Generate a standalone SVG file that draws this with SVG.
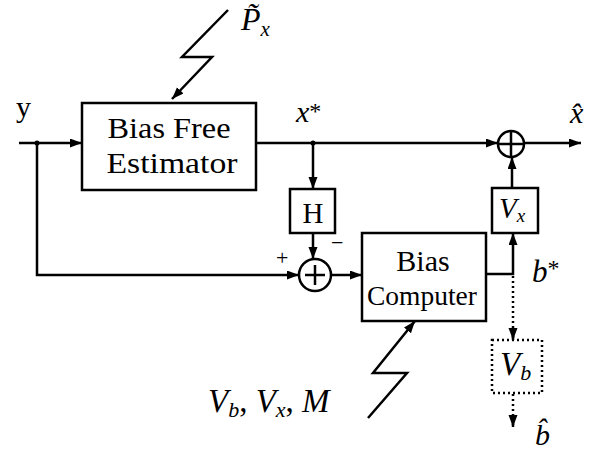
<svg xmlns="http://www.w3.org/2000/svg" width="602" height="452" viewBox="0 0 602 452">
<defs>
<marker id="ah" markerUnits="userSpaceOnUse" markerWidth="13" markerHeight="10" refX="12" refY="4.5" orient="auto">
<path d="M0,0 L12,4.5 L0,9 z" fill="#000"/>
</marker>
<style>
.ln{fill:none;stroke:#000;stroke-width:2.5}
.dot{fill:none;stroke:#000;stroke-width:2.5;stroke-dasharray:2 3}
.bx{fill:#fff;stroke:#000;stroke-width:2.5}
.i{font-style:italic}
</style>
</defs>
<rect width="602" height="452" fill="#fff"/>

<g id="connectors">
<path class="ln" d="M19,143 H82" marker-end="url(#ah)"/>
<path class="ln" d="M37,143 V275 H299" marker-end="url(#ah)"/>
<path class="ln" d="M256,143 H498" marker-end="url(#ah)"/>
<path class="ln" d="M313,143 V189" marker-end="url(#ah)"/>
<path class="ln" d="M313,233 V259" marker-end="url(#ah)"/>
<path class="ln" d="M331,275 H362" marker-end="url(#ah)"/>
<path class="ln" d="M486,274 H513 V233" marker-end="url(#ah)"/>
<path class="ln" d="M512,188 V157" marker-end="url(#ah)"/>
<path class="ln" d="M524,143 H581" marker-end="url(#ah)"/>
<path class="dot" d="M513,276 V338"/>
<path class="ln" d="M513,330 V340" marker-end="url(#ah)"/>
<path class="dot" d="M513,394 V425"/>
<path class="ln" d="M513,418 V427" marker-end="url(#ah)"/>
<path class="ln" d="M228,10 L182,57 H212 L172,99" marker-end="url(#ah)"/>
<path class="ln" d="M368,418 L407,373 H373 L415,321" marker-end="url(#ah)"/>
<circle cx="37" cy="143" r="2.5" fill="#000"/>
<circle cx="313" cy="143" r="2.5" fill="#000"/>
</g>

<g font-family="'Liberation Serif', 'DejaVu Serif', serif" fill="#000">
<g id="estimator">
<rect class="bx" x="82" y="103" width="174" height="87"/>
<text x="169" y="138" font-size="30" text-anchor="middle" textLength="123" lengthAdjust="spacingAndGlyphs">Bias Free</text>
<text x="172" y="173" font-size="30" text-anchor="middle" textLength="131" lengthAdjust="spacingAndGlyphs">Estimator</text>
</g>

<g id="H">
<rect class="bx" x="290" y="189" width="45" height="44"/>
<text x="313" y="223" font-size="29" text-anchor="middle">H</text>
</g>

<g id="sum1">
<circle class="bx" cx="315" cy="275" r="16"/>
<path class="ln" d="M305,275 H325 M315,265 V285" stroke-width="1.5"/>
</g>

<g id="sum2">
<circle class="bx" cx="511" cy="144" r="13"/>
<path class="ln" d="M499,144 H523 M511,132 V156" stroke-width="1.5"/>
</g>

<g id="computer">
<rect class="bx" x="362" y="233" width="124" height="88"/>
<text x="423" y="271" font-size="30" text-anchor="middle">Bias</text>
<text x="422" y="305" font-size="27" text-anchor="middle" textLength="110" lengthAdjust="spacingAndGlyphs">Computer</text>
</g>

<g id="Vx">
<rect class="bx" x="492" y="188" width="46" height="45"/>
<text class="i" x="499" y="218" font-size="29">V<tspan font-size="19" dy="4">x</tspan></text>
</g>

<g id="Vb">
<rect class="dot" x="492" y="340" width="50" height="53"/>
<text class="i" x="500" y="375" font-size="33">V<tspan font-size="22" dy="5">b</tspan></text>
</g>

<g id="labels">
<text x="16" y="117" font-size="30">y</text>
<text class="i" x="296" y="122" font-size="30">x<tspan font-style="normal" font-size="24" dy="-3">*</tspan></text>
<text class="i" x="241" y="30" font-size="32">P̃<tspan font-size="21" dy="6">x</tspan></text>
<text class="i" x="570" y="123" font-size="30">x̂</text>
<text class="i" x="532" y="282" font-size="31">b<tspan font-style="normal" font-size="24" dy="-6">*</tspan></text>
<text class="i" x="535" y="445" font-size="30">b̂</text>
<text x="276" y="265" font-size="22">+</text>
<text x="331" y="250" font-size="22">−</text>
<text class="i" x="208" y="412" font-size="33">V<tspan font-size="22" dy="5">b</tspan><tspan font-style="normal" dy="-5">, </tspan>V<tspan font-size="22" dy="5">x</tspan><tspan font-style="normal" dy="-5">, </tspan>M</text>
</g>
</g>
</svg>
